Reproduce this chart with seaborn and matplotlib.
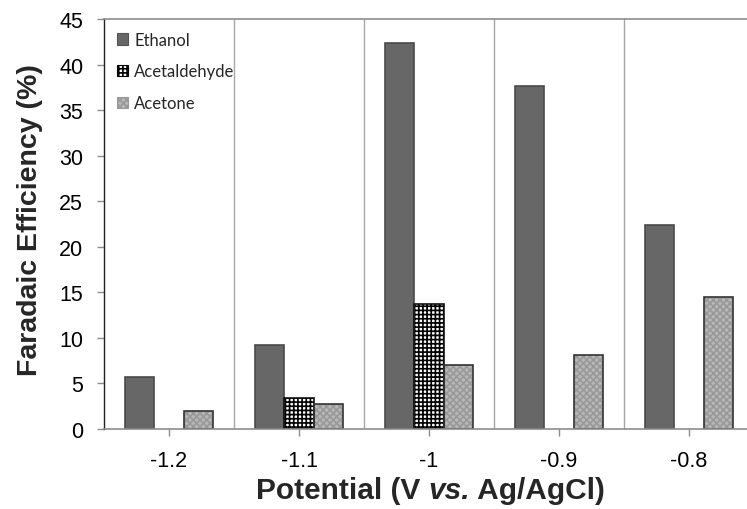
import matplotlib
matplotlib.use("Agg")
import matplotlib.pyplot as plt
from matplotlib.patches import Rectangle
import seaborn as sns
import pandas as pd

# Faradaic efficiency of each product at each applied potential
potentials = ["-1.2", "-1.1", "-1", "-0.9", "-0.8"]
products = ["Ethanol", "Acetaldehyde", "Acetone"]
ethanol = [5.7, 9.2, 42.4, 37.6, 22.4]
acetaldehyde = [0.0, 3.4, 13.7, 0.0, 0.0]
acetone = [2.0, 2.7, 7.0, 8.1, 14.5]

df = pd.DataFrame({
    "Potential": potentials * 3,
    "Product": [p for p in products for _ in potentials],
    "FE": ethanol + acetaldehyde + acetone,
})

sns.set_theme(style="white")
plt.rcParams["font.family"] = ["Liberation Sans", "DejaVu Sans"]
plt.rcParams["hatch.linewidth"] = 1.2

fill = {"Ethanol": "#676767", "Acetaldehyde": "#ffffff", "Acetone": "#b8b8b8"}
hatch = {"Ethanol": None, "Acetaldehyde": "++++", "Acetone": "xxxxx"}
hatch_col = {"Ethanol": "#555555", "Acetaldehyde": "#000000", "Acetone": "#999999"}
outline = {"Ethanol": "#4a4a4a", "Acetaldehyde": "#111111", "Acetone": "#333333"}

W, H = 747, 510
fig = plt.figure(figsize=(W / 100, H / 100), dpi=100)
ax = fig.add_axes([104 / W, 80 / H, 650 / W, 410 / H])

sns.barplot(data=df, x="Potential", y="FE", hue="Product", order=potentials,
            hue_order=products, palette=fill, width=0.67, gap=0,
            linewidth=0, saturation=1, legend=False, ax=ax)

# fill patterns and outlines per product
for prod, cont in zip(products, ax.containers):
    for bar in cont:
        if bar.get_height() <= 0:
            bar.set_visible(False)
            continue
        if hatch[prod]:
            bar.set_hatch(hatch[prod])
            bar.set_edgecolor(hatch_col[prod])
            bar.set_linewidth(0)
        ax.add_patch(Rectangle(bar.get_xy(), bar.get_width(), bar.get_height(),
                               fill=False, edgecolor=outline[prod], linewidth=1.2,
                               zorder=bar.get_zorder() + 0.1))

ax.set_ylim(0, 45)
ax.set_yticks(range(0, 46, 5))
ax.set_xlim(-0.5, len(potentials) - 0.5)
ax.set_xlabel("")
ax.set_ylabel("")

# category separators
for b in range(1, len(potentials)):
    ax.axvline(b - 0.5, color="#a6a6a6", linewidth=1.0, zorder=0)

ax.spines["right"].set_visible(False)
ax.spines["left"].set_color("#222222")
ax.spines["left"].set_linewidth(1.0)
for s in ["bottom", "top"]:
    ax.spines[s].set_color("#8c8c8c")
    ax.spines[s].set_linewidth(1.2)

ax.tick_params(axis="both", which="both", direction="out", length=5, width=1,
               color="#8c8c8c", labelsize=15.5, labelcolor="#000000")
ax.tick_params(axis="x", bottom=True, pad=10)
ax.tick_params(axis="y", left=True, pad=10)

# axis titles
fig.text(30 / W, 1 - 220 / H, "Faradaic Efficiency (%)", rotation=90,
         ha="center", va="center", fontsize=20.5, fontweight="bold")

renderer = fig.canvas.get_renderer()
parts = [("Potential (V ", "normal"), ("vs.", "italic"), (" Ag/AgCl)", "normal")]
texts = []
for s, style in parts:
    t = fig.text(0, 1 - 491 / H, s, fontsize=21.5, fontweight="bold",
                 fontstyle=style, ha="left", va="center")
    texts.append(t)
widths = [t.get_window_extent(renderer).width for t in texts]
x0 = 430 - sum(widths) / 2
for t, w in zip(texts, widths):
    t.set_x(x0 / W)
    x0 += w

handles = [Rectangle((0, 0), 1, 1, facecolor=fill[p], hatch=hatch[p],
                     edgecolor=hatch_col[p], linewidth=0.8) for p in products]
ax.legend(handles, products, loc="upper left", frameon=False,
          prop={"family": ["Lato", "DejaVu Sans"], "size": 12},
          handlelength=0.7, handleheight=0.7, handletextpad=0.35,
          labelspacing=0.95, borderaxespad=0.35, bbox_to_anchor=(0.0, 1.0))

fig.savefig("out.png", dpi=100)
